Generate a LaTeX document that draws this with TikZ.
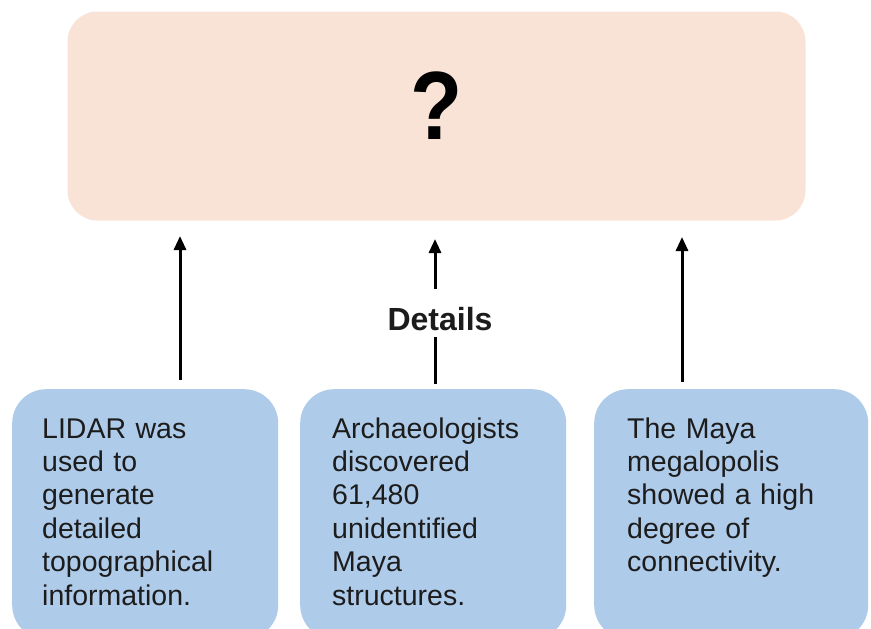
\documentclass[tikz,border=0pt]{standalone}
\usepackage{fontspec}
\setmainfont{Liberation Sans}
\usetikzlibrary{arrows.meta}
\definecolor{peach}{HTML}{F9E3D6}
\definecolor{boxblue}{HTML}{AFCBEA}
\definecolor{ink}{HTML}{1C1C1C}
\begin{document}
\begin{tikzpicture}[x=1pt,y=-1pt,
  topbox/.style={fill=peach,draw=none,rounded corners=30pt},
  detailbox/.style={fill=boxblue,draw=none,rounded corners=34pt},
  boxtext/.style={anchor=base west,inner sep=0pt,text width=240pt,align=left,text=ink,
    font=\fontsize{28.5}{33.4}\selectfont},
  arr/.style={line width=3pt,-{Triangle[length=14pt,width=12pt]}},
  seg/.style={line width=3pt}]
\useasboundingbox (0,0) rectangle (871,629);
\clip (0,0) rectangle (871,629);
% top box
\node[topbox,minimum width=738pt,minimum height=209pt,inner sep=0pt] (main) at (436.5,116) {};
\node[anchor=base,inner sep=0pt,font=\bfseries\fontsize{97}{97}\selectfont,xscale=0.88] (q) at (437,139) {?};
% detail boxes
\node[detailbox,minimum width=266pt,minimum height=250pt,inner sep=0pt,anchor=north west] (b1) at (12,389) {};
\node[detailbox,minimum width=266pt,minimum height=250pt,inner sep=0pt,anchor=north west] (b2) at (300,389) {};
\node[detailbox,minimum width=274pt,minimum height=250pt,inner sep=0pt,anchor=north west] (b3) at (594,389) {};
\node[boxtext] (t1) at (42,438) {LIDAR was\\used to\\generate\\detailed\\topographical\\information.};
\node[boxtext] (t2) at (332,438) {Archaeologists\\discovered\\61,480\\unidentified\\Maya\\structures.};
\node[boxtext] (t3) at (627,438) {The Maya\\megalopolis\\showed a high\\degree of\\connectivity.};
% arrows
\coordinate (a1s) at (180,380);
\coordinate (a1e) at (180,236);
\coordinate (a3s) at (682,382);
\coordinate (a3e) at (682,237);
\coordinate (a2s) at (435,384);
\coordinate (a2m1) at (435,337);
\coordinate (a2m2) at (435,289);
\coordinate (a2e) at (435,239);
\draw[arr] (a1s) -- (a1e);
\draw[arr] (a3s) -- (a3e);
\draw[seg] (a2s) -- (a2m1);
\draw[arr] (a2m2) -- (a2e);
\node[anchor=base,inner sep=0pt,font=\bfseries\fontsize{32}{32}\selectfont,text=ink] (details) at (440,330) {Details};
\end{tikzpicture}
\end{document}
